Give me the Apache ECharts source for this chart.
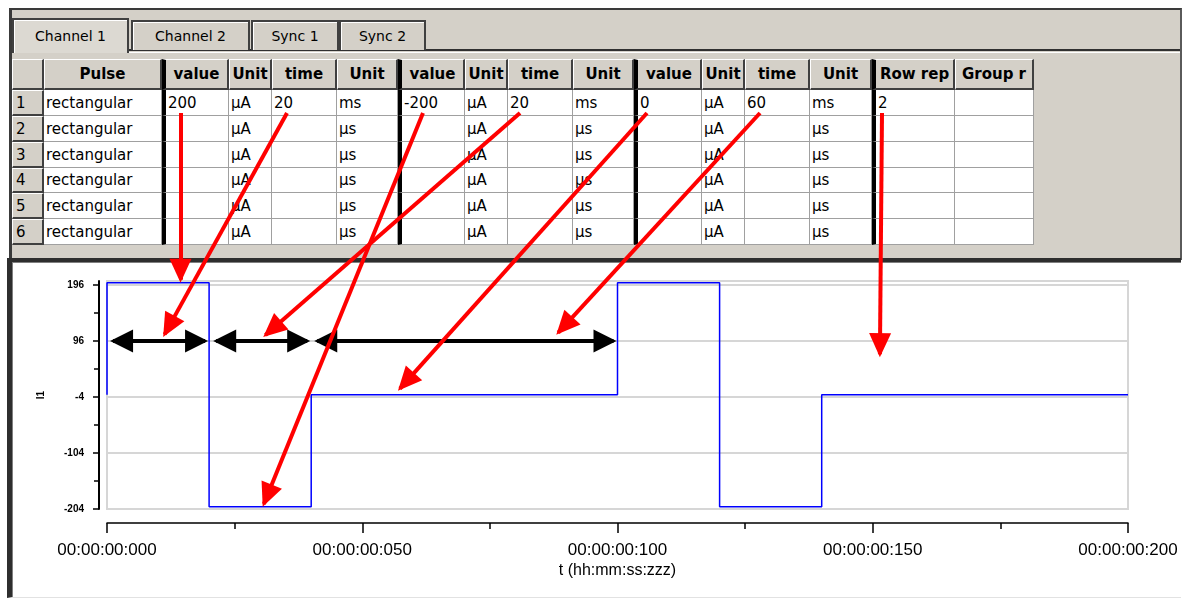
<!DOCTYPE html>
<html>
<head>
<meta charset="utf-8">
<title>Channel 1 pulse</title>
<script src="https://cdn.jsdelivr.net/npm/echarts@6.0.0/dist/echarts.min.js"></script>
<style>
html,body{margin:0;padding:0;background:#fff;}
body{position:relative;width:1187px;height:599px;overflow:hidden;font-family:'DejaVu Sans',Verdana,sans-serif;}
.abs{position:absolute;box-sizing:border-box;}
#panel{left:9px;top:8px;width:1173px;height:252px;background:#d4d0c8;border-top:2px solid #3a3a3a;border-left:3px solid #3a3a3a;border-right:2px solid #5a5a5a;}
.tab{background:#d4d0c8;border:2px solid #404040;border-bottom:none;box-shadow:inset 1px 1px 0 #fff;font-size:14px;text-align:center;color:#000;}
.hdr{background:#d4d0c8;border-top:1px solid #fff;border-left:1px solid #fff;border-right:2px solid #404040;border-bottom:2px solid #404040;font-weight:bold;font-size:15px;text-align:center;color:#000;white-space:nowrap;overflow:hidden;}
.rowhdr{background:#d4d0c8;border-top:1px solid #fff;border-left:1px solid #fff;border-right:2px solid #404040;border-bottom:2px solid #404040;font-size:15px;text-align:left;padding-left:3px;color:#000;}
.cell{background:#fff;border-right:1px solid #a0a0a0;border-bottom:1px solid #a0a0a0;font-size:15px;color:#000;padding-left:2px;padding-top:1px;white-space:nowrap;overflow:hidden;}
.thick{border-left:4px solid #000;}
#frame{left:7px;top:258px;width:1174px;height:340px;background:#fff;border-top:4px solid #2e2e2e;border-left:5px solid #2e2e2e;border-bottom:1px solid #e2e2e2;box-shadow:inset 1px 1px 0 #808080;}
#chart{position:absolute;left:0;top:0;width:1187px;height:599px;z-index:10;pointer-events:none;}
</style>
</head>
<body>
<div id="panel" class="abs"></div>
<div id="stripDark" class="abs" style="left:12px;top:49px;width:1168px;height:2px;background:#303030;"></div>
<div id="stripLight" class="abs" style="left:12px;top:52px;width:1168px;height:1px;background:#fff;"></div>
<div id="tabs"></div>
<div id="table"></div>
<div id="frame" class="abs"></div>
<div id="chart"></div>
<script>
// ---------- table content ----------
const tabNames = ['Channel 1', 'Channel 2', 'Sync 1', 'Sync 2'];
const columnHeaders = ['', 'Pulse', 'value', 'Unit', 'time', 'Unit', 'value', 'Unit', 'time', 'Unit', 'value', 'Unit', 'time', 'Unit', 'Row rep', 'Group r'];
const rowNumbers = ['1', '2', '3', '4', '5', '6'];
const row1 = ['rectangular', '200', 'µA', '20', 'ms', '-200', 'µA', '20', 'ms', '0', 'µA', '60', 'ms', '2', ''];
const row2 = ['rectangular', '', 'µA', '', 'µs', '', 'µA', '', 'µs', '', 'µA', '', 'µs', '', ''];
const row3 = ['rectangular', '', 'µA', '', 'µs', '', 'µA', '', 'µs', '', 'µA', '', 'µs', '', ''];
const row4 = ['rectangular', '', 'µA', '', 'µs', '', 'µA', '', 'µs', '', 'µA', '', 'µs', '', ''];
const row5 = ['rectangular', '', 'µA', '', 'µs', '', 'µA', '', 'µs', '', 'µA', '', 'µs', '', ''];
const row6 = ['rectangular', '', 'µA', '', 'µs', '', 'µA', '', 'µs', '', 'µA', '', 'µs', '', ''];

// ---------- chart data ----------
const stepTimes = [0, 0, 20, 20, 40, 40, 100, 100, 120, 120, 140, 140, 200];      // ms
const stepValues = [0, 200, 200, -200, -200, 0, 0, 200, 200, -200, -200, 0, 0];   // µA
const yTickValues = [-204, -104, -4, 96, 196];
const yMinorTickValues = [-154, -54, 46, 146];
const xTickValues = [0, 50, 100, 150, 200];
const xTickLabels = ['00:00:00:000', '00:00:00:050', '00:00:00:100', '00:00:00:150', '00:00:00:200'];
// black duration arrows
const spanStart = [0.6, 20.8, 40.6];
const spanEnd = [19.8, 39.8, 99.8];
const spanLevel = 96;
// red arrows: from table cells (row 1) to chart points
const redFromCol = [2, 4, 6, 8, 10, 12, 14];
const redToT = [14.4, 11, 30.5, 30.6, 57, 88, 151.4];
const redToV = [200, 103, -200, 103, 7, 107, 67];

// ---------- layout (pixels) ----------
const tabBoxes = [[12, 18, 117, 35, true], [131, 20, 119, 30, false], [251, 20, 88, 30, false], [339, 20, 87, 30, false]];
const colEdges = [12, 44, 162, 229, 272, 337, 398, 465, 508, 573, 634, 702, 745, 810, 872, 955, 1034];
const thickCols = [2, 6, 10, 14];
const headerTop = 59, headerHeight = 31;
const rowTops = [90, 116, 142, 168, 193, 219, 245];
const redFromDx = [18.5, 15, 25, 12, 13, 15, 10];
const tipInset = 3;

// tabs
const tabsDiv = document.getElementById('tabs');
tabNames.forEach((name, i) => {
  const [l, t, w, h, active] = tabBoxes[i];
  const d = document.createElement('div');
  d.className = 'abs tab';
  d.style.cssText = `left:${l}px;top:${t}px;width:${w}px;height:${h}px;line-height:${h - 2}px;` + (active ? 'background:#dcd9d2;z-index:2;' : '');
  d.textContent = name;
  tabsDiv.appendChild(d);
});

// table
const tableDiv = document.getElementById('table');
const allRows = [row1, row2, row3, row4, row5, row6];
function addCell(cls, col, top, h, text, id) {
  const d = document.createElement('div');
  d.className = 'abs ' + cls + (thickCols.includes(col) ? ' thick' : '');
  const l = colEdges[col], w = colEdges[col + 1] - colEdges[col];
  d.style.cssText = `left:${l}px;top:${top}px;width:${w}px;height:${h}px;line-height:${h - 2}px;`;
  d.textContent = text;
  if (id) d.id = id;
  tableDiv.appendChild(d);
}
columnHeaders.forEach((txt, c) => addCell(c === 0 ? 'rowhdr' : 'hdr', c, headerTop, headerHeight, txt));
allRows.forEach((row, r) => {
  const top = rowTops[r], h = rowTops[r + 1] - rowTops[r];
  addCell('rowhdr', 0, top, h, rowNumbers[r]);
  row.forEach((txt, j) => addCell('cell', j + 1, top, h, txt, `cell-${r}-${j + 1}`));
});

// ---------- chart ----------
const chart = echarts.init(document.getElementById('chart'), null, { renderer: 'canvas' });
const font = "'Liberation Sans', Arial, sans-serif";

chart.setOption({
  animation: false,
  backgroundColor: 'transparent',
  grid: { left: 107, top: 281, width: 1021, height: 228, show: true, borderColor: '#d6d6d6', borderWidth: 2, backgroundColor: 'transparent' },
  xAxis: {
    type: 'value', min: 0, max: 200, interval: 50, offset: 14,
    axisLine: { show: true, onZero: false, lineStyle: { color: '#000', width: 1.5 } },
    axisTick: { show: true, length: 10, lineStyle: { color: '#000', width: 1.5 } },
    minorTick: { show: true, splitNumber: 2, length: 6, lineStyle: { color: '#000', width: 1.5 } },
    splitLine: { show: false },
    axisLabel: { margin: 19, fontSize: 17, color: '#000', fontFamily: font,
      formatter: v => { const k = xTickValues.indexOf(v); return k >= 0 ? xTickLabels[k] : ''; } },
    name: 't (hh:mm:ss:zzz)', nameLocation: 'middle', nameGap: 40,
    nameTextStyle: { fontSize: 16, color: '#000', fontFamily: font }
  },
  yAxis: [{
    type: 'value', min: -204, max: 203, interval: 100, offset: 8, position: 'left',
    axisLine: { show: true, onZero: false, lineStyle: { color: '#000', width: 2 } },
    axisTick: { show: true, length: 6, customValues: yTickValues, lineStyle: { color: '#000', width: 1.5 } },
    axisLabel: { customValues: yTickValues, margin: 15, fontSize: 10, fontWeight: 'bold', color: '#000', fontFamily: font },
    splitLine: { show: true, lineStyle: { color: '#d6d6d6', width: 2 } },
    name: 'I1', nameLocation: 'middle', nameGap: 53, nameRotate: 90,
    nameTextStyle: { fontSize: 10, fontWeight: 'bold', color: '#000', fontFamily: font }
  }, {
    type: 'value', min: -204, max: 203, interval: 100, offset: 8, position: 'left',
    axisLine: { show: false, onZero: false },
    axisTick: { show: true, length: 5, customValues: yMinorTickValues, lineStyle: { color: '#000', width: 1.5 } },
    axisLabel: { show: false },
    splitLine: { show: false }
  }],
  series: [{
    type: 'line', name: 'I1', yAxisIndex: 0,
    data: stepTimes.map((t, i) => [t, stepValues[i]]),
    showSymbol: false, symbol: 'none', clip: false,
    lineStyle: { color: '#0000ff', width: 1.5 }
  }, {
    type: 'line', name: 'annotations', yAxisIndex: 0, data: [],
    showSymbol: false, symbol: 'none', z: 10
  }]
});

// arrow geometry: tips come from the chart's own scales
const toPx = (t, v) => chart.convertToPixel({ xAxisIndex: 0, yAxisIndex: 0 }, [t, v]);
function unit(a, b) { const dx = b[0] - a[0], dy = b[1] - a[1], n = Math.hypot(dx, dy) || 1; return [dx / n, dy / n]; }

const redArrows = redFromCol.map((c, i) => {
  const rect = document.getElementById(`cell-0-${c}`).getBoundingClientRect();
  const S = [rect.left + redFromDx[i], rect.bottom - 3];
  const T = toPx(redToT[i], redToV[i]);
  const u = unit(S, T);
  return [
    { x: S[0], y: S[1], symbol: 'none' },
    { x: T[0] - u[0] * tipInset, y: T[1] - u[1] * tipInset, symbol: 'triangle', symbolSize: [22, 24], symbolOffset: [0, 12 - tipInset] }
  ];
});
const spanArrows = spanStart.map((s, i) => {
  const A = toPx(s, spanLevel), B = toPx(spanEnd[i], spanLevel);
  const u = unit(A, B);
  return [
    { x: A[0] + u[0] * tipInset, y: A[1] + u[1] * tipInset, symbol: 'triangle', symbolSize: [23, 23], symbolOffset: [0, 11.5 - tipInset] },
    { x: B[0] - u[0] * tipInset, y: B[1] - u[1] * tipInset, symbol: 'triangle', symbolSize: [23, 23], symbolOffset: [0, 11.5 - tipInset] }
  ];
});

chart.setOption({
  series: [{
    markLine: {
      silent: true, animation: false,
      symbol: ['triangle', 'triangle'],
      symbolSize: [23, 23],
      lineStyle: { color: '#000', width: 4, type: 'solid' },
      itemStyle: { color: '#000' },
      label: { show: false },
      data: spanArrows
    }
  }, {
    markLine: {
      silent: true, animation: false, z: 10,
      symbol: ['none', 'triangle'],
      symbolSize: [22, 24],
      lineStyle: { color: '#ff0000', width: 4, type: 'solid' },
      itemStyle: { color: '#ff0000' },
      label: { show: false },
      data: redArrows
    }
  }]
});
</script>
</body>
</html>
